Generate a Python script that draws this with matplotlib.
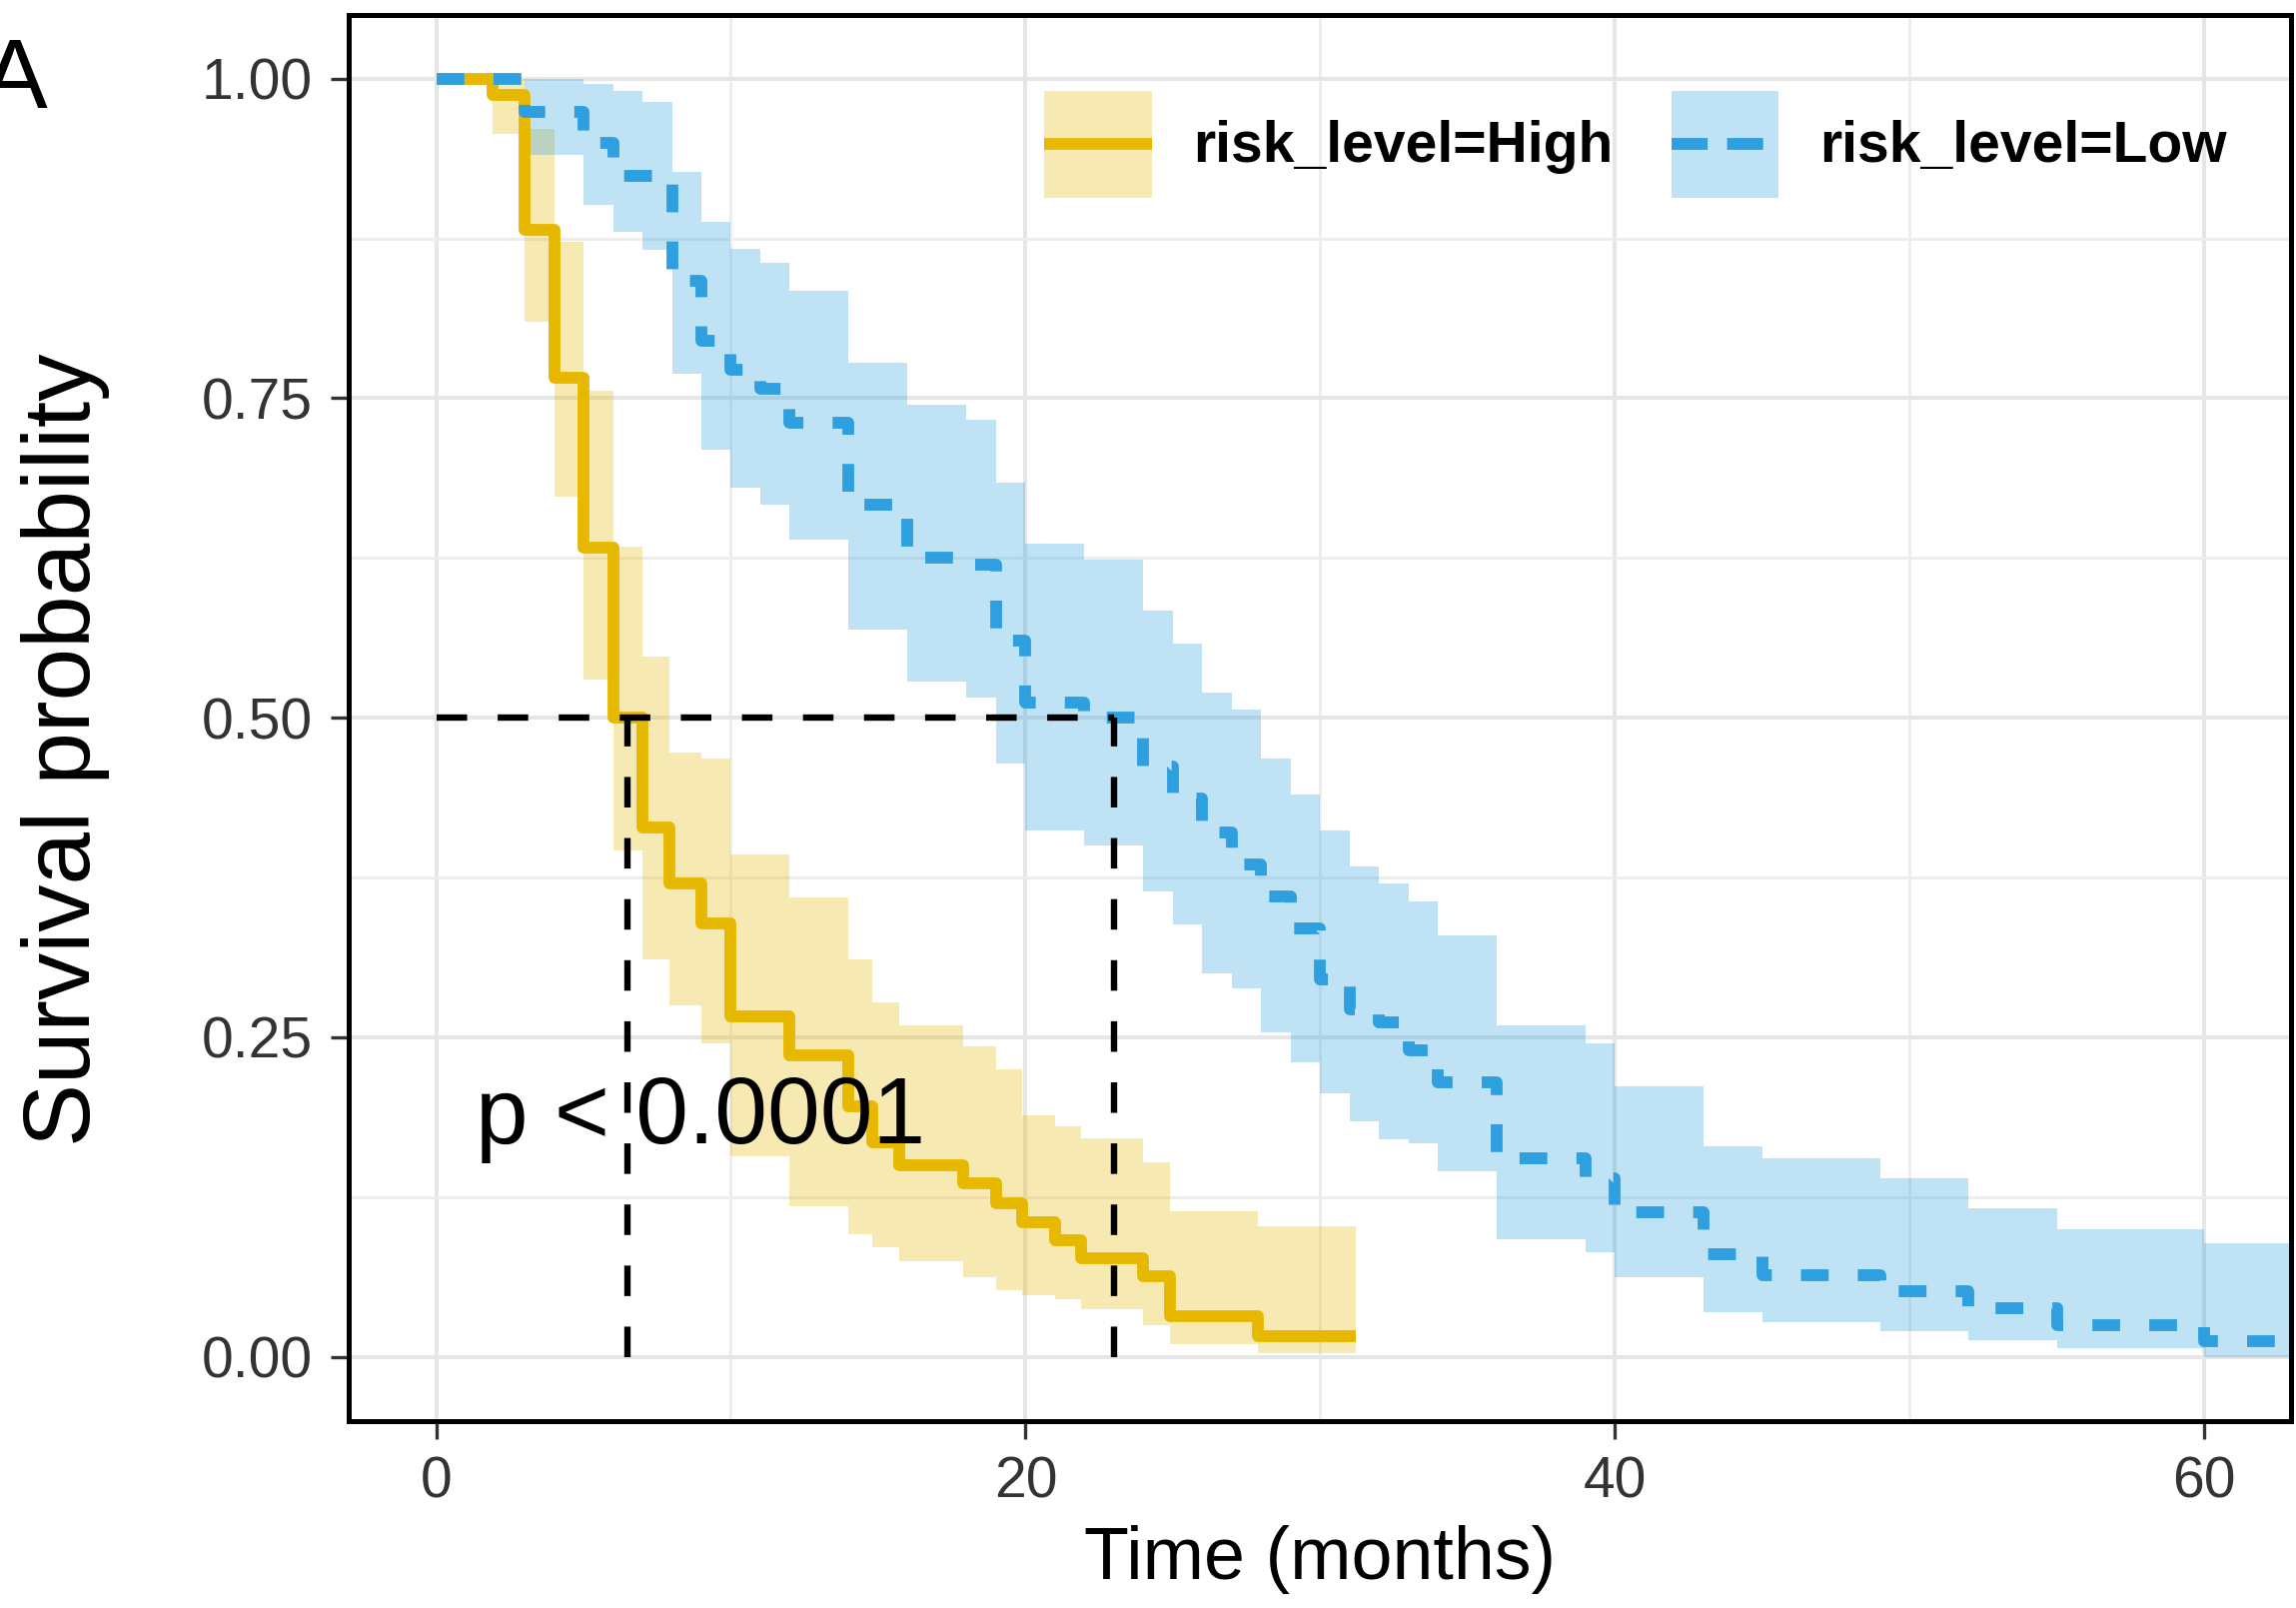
import matplotlib
matplotlib.use('Agg')
import matplotlib.pyplot as plt
import numpy as np
from matplotlib.patches import Rectangle
from matplotlib.lines import Line2D
from matplotlib.legend_handler import HandlerBase
from matplotlib.colors import to_rgba

plt.rcParams['font.family'] = ['Liberation Sans', 'DejaVu Sans']
plt.rcParams['lines.scale_dashes'] = False

# ---------------- data ----------------
groups = ['risk_level=High', 'risk_level=Low']

high_time = [0, 1.9, 3.0, 4.0, 5.0, 6.0, 7.0, 7.9, 9.0, 10.0, 12.0, 14.0, 14.8, 15.7,
             17.9, 19.0, 19.9, 21.0, 21.9, 24.0, 24.9, 27.9]
high_surv = [1.0, 0.987, 0.882, 0.766, 0.633, 0.500, 0.414, 0.370, 0.339, 0.266, 0.236,
             0.196, 0.168, 0.150, 0.136, 0.120, 0.105, 0.091, 0.077, 0.063, 0.032, 0.016]
high_lower = [1.0, 0.957, 0.81, 0.673, 0.53, 0.396, 0.311, 0.275, 0.245, 0.157, 0.118,
              0.096, 0.086, 0.075, 0.0625, 0.052, 0.048, 0.045, 0.037, 0.025, 0.010, 0.003]
high_upper = [1.0, 1.0, 0.961, 0.872, 0.756, 0.634, 0.548, 0.473, 0.468, 0.393, 0.359,
              0.311, 0.277, 0.259, 0.243, 0.225, 0.189, 0.18, 0.171, 0.152, 0.114, 0.102]
high_end = 31.2

low_time = [0, 3, 5, 6, 7, 8, 9, 10, 11, 12, 14, 16, 18, 19, 20, 22, 24, 25, 26, 27,
            28, 29, 30, 31, 32, 33, 34, 36, 39, 40, 43, 45, 49, 52, 55, 60]
low_surv = [1.0, 0.974, 0.95, 0.924, 0.924, 0.842, 0.795, 0.772, 0.757, 0.731, 0.667,
            0.625, 0.62, 0.56, 0.512, 0.50, 0.462, 0.437, 0.41, 0.385, 0.36, 0.335,
            0.295, 0.272, 0.262, 0.24, 0.215, 0.155, 0.14, 0.113, 0.08, 0.064, 0.051,
            0.038, 0.025, 0.012]
low_lower = [1.0, 0.94, 0.901, 0.88, 0.866, 0.769, 0.71, 0.68, 0.667, 0.639, 0.569,
             0.528, 0.516, 0.464, 0.412, 0.40, 0.364, 0.338, 0.30, 0.288, 0.254, 0.23,
             0.206, 0.184, 0.17, 0.167, 0.145, 0.092, 0.082, 0.062, 0.035, 0.027, 0.02,
             0.013, 0.007, 0.0]
low_upper = [1.0, 1.0, 0.996, 0.99, 0.982, 0.927, 0.888, 0.867, 0.856, 0.834, 0.778,
             0.745, 0.733, 0.684, 0.636, 0.624, 0.584, 0.558, 0.52, 0.506, 0.468, 0.44,
             0.412, 0.384, 0.37, 0.356, 0.33, 0.259, 0.245, 0.212, 0.165, 0.155, 0.14,
             0.116, 0.10, 0.089]
low_end = 64.0

median_high = 6.5
median_low = 23.0
pval_text = 'p < 0.0001'

x_ticks = [0, 20, 40, 60]
y_ticks = [0.0, 0.25, 0.50, 0.75, 1.00]
y_ticklabels = ['0.00', '0.25', '0.50', '0.75', '1.00']

# ---------------- style ----------------
high_color = '#E7B800'
low_color = '#2E9FDF'
band_alpha = 0.3
line_w = 8.5
dash_pat = (20, 21)

W, H = 2298, 1609
fig = plt.figure(figsize=(W / 100, H / 100), dpi=100)
ax = fig.add_axes([349 / W, 1 - 1421.6 / H, (2293 - 349) / W, (1421.6 - 14.7) / H])


def extend(t, v, end):
    return np.append(np.asarray(t, float), end), np.append(np.asarray(v, float), v[-1])


th, hs = extend(high_time, high_surv, high_end)
_, hl = extend(high_time, high_lower, high_end)
_, hu = extend(high_time, high_upper, high_end)
tl, ls = extend(low_time, low_surv, low_end)
_, ll = extend(low_time, low_lower, low_end)
_, lu = extend(low_time, low_upper, low_end)

ax.fill_between(th, hl, hu, step='post', color=high_color, alpha=band_alpha, lw=0, zorder=2)
ax.fill_between(tl, ll, lu, step='post', color=low_color, alpha=band_alpha, lw=0, zorder=2)

ax.step(th, hs, where='post', color=high_color, lw=line_w, zorder=3,
        solid_joinstyle='round', solid_capstyle='butt')
ax.step(tl, ls, where='post', color=low_color, lw=line_w, zorder=4, dashes=dash_pat,
        dash_joinstyle='round', dash_capstyle='butt')

# median lines
med_kw = dict(color='black', lw=4.6, dashes=(22, 22), zorder=5, dash_capstyle='butt')
ax.plot([0, median_low], [0.5, 0.5], **med_kw)
ax.plot([median_high, median_high], [0, 0.5], **med_kw)
ax.plot([median_low, median_low], [0, 0.5], **med_kw)

ax.text(1.33, 0.167, pval_text, fontsize=68, ha='left', va='baseline', color='black', zorder=6)

# axes
ax.set_xlim(-2.97, 62.95)
ax.set_ylim(-0.05, 1.05)
ax.set_xticks(x_ticks)
ax.set_xticklabels([str(v) for v in x_ticks])
ax.set_yticks(y_ticks)
ax.set_yticklabels(y_ticklabels)
ax.set_xticks([10, 30, 50], minor=True)
ax.set_yticks([0.125, 0.375, 0.625, 0.875], minor=True)
ax.tick_params(which='minor', length=0)
ax.tick_params(which='major', direction='out', length=13, width=2.4, color='#333333',
               labelsize=41, labelcolor='#333333')
ax.tick_params(axis='y', pad=13)
ax.tick_params(axis='x', pad=12)
ax.grid(which='major', color='#E6E6E6', lw=2.9)
ax.grid(which='minor', color='#EDEDED', lw=2.0)
ax.set_axisbelow(True)
for s in ax.spines.values():
    s.set_color('black')
    s.set_linewidth(3.6)

ax.set_xlabel('Time (months)', fontsize=53)
ax.xaxis.set_label_coords(0.5, -0.099)
ax.xaxis.label.set_va('center')
ax.set_ylabel('Survival probability', fontsize=68)
ax.yaxis.set_label_coords(-0.1456, 0.477)
ax.yaxis.label.set_va('center')


# legend: key = ribbon-coloured box with the curve's line through its middle
class KeyHandle:
    def __init__(self, color, dashes=None):
        self.color = color
        self.dashes = dashes


class KeyHandler(HandlerBase):
    def create_artists(self, legend, orig_handle, xdescent, ydescent, width, height,
                       fontsize, trans):
        x0, y0 = -xdescent, -ydescent
        rect = Rectangle((x0, y0), width, height, facecolor=to_rgba(orig_handle.color, band_alpha),
                         edgecolor='none', transform=trans)
        kw = dict(color=orig_handle.color, lw=line_w, solid_capstyle='butt',
                  dash_capstyle='butt', transform=trans)
        if orig_handle.dashes is not None:
            kw['dashes'] = orig_handle.dashes
        line = Line2D([x0, x0 + width], [y0 + height / 2] * 2, **kw)
        return [rect, line]


handles = [KeyHandle(high_color), KeyHandle(low_color, dashes=(26, 14))]
ax.legend(handles, groups, handler_map={KeyHandle: KeyHandler()},
          ncol=2, loc='center left', bbox_to_anchor=(1045 / W, 1 - 144.5 / H),
          bbox_transform=fig.transFigure, frameon=False,
          prop={'weight': 'bold', 'size': 41}, handlelength=1.89, handleheight=2.51,
          handletextpad=0.72, columnspacing=1.03, borderpad=0, borderaxespad=0)

fig.text(-18 / W, 1 - 108 / H, 'A', fontsize=71, ha='left', va='baseline', color='black')

fig.savefig('out.png', dpi=100)
